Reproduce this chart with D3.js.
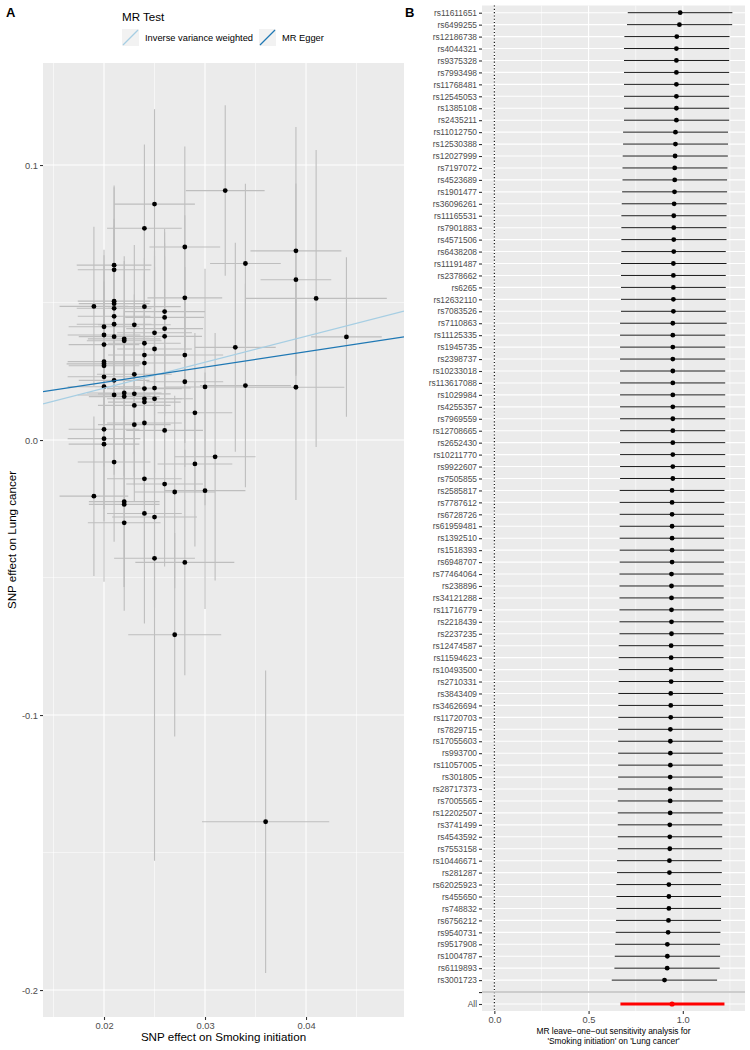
<!DOCTYPE html>
<html>
<head>
<meta charset="utf-8">
<script src="https://cdn.jsdelivr.net/npm/d3@7"></script>
<style>
body { margin: 0; background: #fff; }
svg text { font-family: "Liberation Sans", Arial, Helvetica, sans-serif; }
</style>
</head>
<body>
<div id="chart"></div>
<script>
// ---- panel A: SNP effects (exposure / outcome) with standard errors
var snpX = [0.025, 0.032, 0.024, 0.028, 0.039, 0.034, 0.021, 0.021, 0.039, 0.041,
            0.028, 0.044, 0.019, 0.021, 0.021, 0.021, 0.024, 0.026, 0.026, 0.021,
            0.021, 0.023, 0.020, 0.026, 0.025, 0.020, 0.021, 0.026, 0.022, 0.022,
            0.024, 0.020, 0.025, 0.033, 0.024, 0.028, 0.020, 0.020, 0.020, 0.024,
            0.023, 0.020, 0.021, 0.028, 0.020, 0.030, 0.024, 0.025, 0.034, 0.039,
            0.021, 0.022, 0.022, 0.023, 0.024, 0.024, 0.025, 0.023, 0.029, 0.023,
            0.024, 0.026, 0.020, 0.020, 0.020, 0.031, 0.029, 0.021, 0.024, 0.026,
            0.027, 0.030, 0.019, 0.022, 0.022, 0.024, 0.025, 0.022, 0.025, 0.028,
            0.027, 0.036];
var snpY = [0.0858, 0.0907, 0.0770, 0.0702, 0.0688, 0.0642, 0.0636, 0.0619, 0.0583, 0.0515,
            0.0517, 0.0375, 0.0486, 0.0505, 0.0496, 0.0479, 0.0485, 0.0467, 0.0446, 0.0450,
            0.0421, 0.0419, 0.0412, 0.0405, 0.0390, 0.0382, 0.0376, 0.0377, 0.0368, 0.0361,
            0.0352, 0.0347, 0.0331, 0.0337, 0.0309, 0.0309, 0.0285, 0.0277, 0.0270, 0.0280,
            0.0239, 0.0230, 0.0217, 0.0212, 0.0194, 0.0193, 0.0187, 0.0189, 0.0198, 0.0192,
            0.0164, 0.0171, 0.0158, 0.0168, 0.0150, 0.0138, 0.0150, 0.0126, 0.0099, 0.0056,
            0.0062, 0.0035, 0.0039, 0.0005, -0.0015, -0.0061, -0.0087, -0.0080, -0.0141, -0.0160,
            -0.0189, -0.0184, -0.0204, -0.0224, -0.0234, -0.0267, -0.0280, -0.0301, -0.0430, -0.0445,
            -0.0708, -0.1388];
var seX = [0.0040, 0.0039, 0.0037, 0.0035, 0.0045, 0.0035, 0.0037, 0.0036, 0.0035, 0.0070,
           0.0037, 0.0035, 0.0034, 0.0036, 0.0035, 0.0037, 0.0036, 0.0040, 0.0039, 0.0036,
           0.0037, 0.0036, 0.0035, 0.0038, 0.0037, 0.0036, 0.0035, 0.0037, 0.0036, 0.0037,
           0.0036, 0.0035, 0.0037, 0.0040, 0.0036, 0.0038, 0.0036, 0.0037, 0.0035, 0.0036,
           0.0037, 0.0036, 0.0035, 0.0038, 0.0036, 0.0040, 0.0037, 0.0036, 0.0045, 0.0048,
           0.0036, 0.0037, 0.0035, 0.0036, 0.0037, 0.0036, 0.0038, 0.0036, 0.0037, 0.0036,
           0.0037, 0.0038, 0.0035, 0.0036, 0.0035, 0.0040, 0.0037, 0.0036, 0.0037, 0.0038,
           0.0040, 0.0040, 0.0034, 0.0035, 0.0035, 0.0037, 0.0042, 0.0036, 0.0040, 0.0049,
           0.0046, 0.0063];
var seY = [0.0345, 0.031, 0.0305, 0.0365, 0.045, 0.029, 0.029, 0.030, 0.035, 0.054,
           0.030, 0.029, 0.029, 0.030, 0.028, 0.030, 0.029, 0.030, 0.031, 0.029,
           0.030, 0.029, 0.028, 0.031, 0.030, 0.029, 0.030, 0.029, 0.030, 0.029,
           0.031, 0.029, 0.030, 0.038, 0.030, 0.032, 0.029, 0.030, 0.029, 0.030,
           0.029, 0.030, 0.029, 0.031, 0.029, 0.043, 0.030, 0.031, 0.037, 0.041,
           0.029, 0.030, 0.029, 0.030, 0.031, 0.029, 0.030, 0.029, 0.029, 0.028,
           0.030, 0.031, 0.029, 0.030, 0.050, 0.045, 0.030, 0.029, 0.030, 0.030,
           0.035, 0.043, 0.029, 0.031, 0.030, 0.040, 0.033, 0.032, 0.110, 0.041,
           0.037, 0.055];

// MR fits: intercept, slope
var methods = ["Inverse variance weighted", "MR Egger"];
var methodA = [0, 0.0098];
var methodB = [0.943, 0.557];
var methodColor = ["#a6cee3", "#1f78b4"];

var xTicksA = [0.02, 0.03, 0.04], xMinorA = [0.015, 0.025, 0.035, 0.045];
var yTicksA = [0.1, 0, -0.1, -0.2], yMinorA = [0.05, -0.05, -0.15];

// ---- panel B: leave-one-out estimates
var looSnp = ["rs11611651","rs6499255","rs12186738","rs4044321","rs9375328","rs7993498","rs11768481",
  "rs12545053","rs1385108","rs2435211","rs11012750","rs12530388","rs12027999","rs7197072","rs4523689",
  "rs1901477","rs36096261","rs11165531","rs7901883","rs4571506","rs6438208","rs11191487","rs2378662",
  "rs6265","rs12632110","rs7083526","rs7110863","rs11125335","rs1945735","rs2398737","rs10233018",
  "rs113617088","rs1029984","rs4255357","rs7969559","rs12708665","rs2652430","rs10211770","rs9922607",
  "rs7505855","rs2585817","rs7787612","rs6728726","rs61959481","rs1392510","rs1518393","rs6948707",
  "rs77464064","rs238896","rs34121288","rs11716779","rs2218439","rs2237235","rs12474587","rs11594623",
  "rs10493500","rs2710331","rs3843409","rs34626694","rs11720703","rs7829715","rs17055603","rs993700",
  "rs11057005","rs301805","rs28717373","rs7005565","rs12202507","rs3741499","rs4543592","rs7553158",
  "rs10446671","rs281287","rs62025923","rs455650","rs748832","rs6756212","rs9540731","rs9517908",
  "rs1004787","rs6119893","rs3001723"];
var looB = [0.986, 0.982, 0.968, 0.966, 0.966, 0.966, 0.966, 0.966, 0.966, 0.966,
            0.961, 0.961, 0.959, 0.957, 0.957, 0.956, 0.954, 0.952, 0.952, 0.952,
            0.952, 0.950, 0.950, 0.950, 0.950, 0.950, 0.947, 0.947, 0.947, 0.947,
            0.947, 0.947, 0.947, 0.947, 0.947, 0.947, 0.947, 0.947, 0.947, 0.947,
            0.943, 0.943, 0.943, 0.943, 0.943, 0.943, 0.943, 0.940, 0.940, 0.940,
            0.940, 0.940, 0.940, 0.938, 0.938, 0.938, 0.938, 0.936, 0.936, 0.936,
            0.934, 0.934, 0.934, 0.934, 0.933, 0.933, 0.933, 0.933, 0.931, 0.931,
            0.931, 0.929, 0.929, 0.926, 0.926, 0.926, 0.924, 0.922, 0.918, 0.918,
            0.917, 0.903];
var looLo = [0.708, 0.704, 0.690, 0.688, 0.688, 0.688, 0.688, 0.688, 0.688, 0.688,
             0.683, 0.683, 0.681, 0.680, 0.680, 0.678, 0.676, 0.674, 0.674, 0.674,
             0.674, 0.672, 0.672, 0.672, 0.672, 0.672, 0.667, 0.667, 0.667, 0.667,
             0.667, 0.667, 0.667, 0.667, 0.667, 0.667, 0.667, 0.667, 0.667, 0.667,
             0.665, 0.665, 0.665, 0.665, 0.665, 0.665, 0.665, 0.664, 0.664, 0.664,
             0.664, 0.664, 0.664, 0.660, 0.660, 0.660, 0.660, 0.658, 0.658, 0.658,
             0.657, 0.657, 0.657, 0.657, 0.657, 0.655, 0.655, 0.655, 0.655, 0.655,
             0.655, 0.651, 0.651, 0.648, 0.648, 0.648, 0.646, 0.644, 0.641, 0.639,
             0.637, 0.623];
var looHi = [1.263, 1.262, 1.248, 1.246, 1.246, 1.246, 1.246, 1.246, 1.246, 1.246,
             1.240, 1.240, 1.239, 1.237, 1.235, 1.235, 1.233, 1.232, 1.232, 1.232,
             1.228, 1.232, 1.228, 1.228, 1.228, 1.228, 1.233, 1.225, 1.225, 1.225,
             1.225, 1.225, 1.225, 1.225, 1.225, 1.225, 1.225, 1.225, 1.225, 1.225,
             1.221, 1.221, 1.219, 1.219, 1.219, 1.219, 1.219, 1.217, 1.217, 1.217,
             1.217, 1.217, 1.217, 1.216, 1.216, 1.216, 1.216, 1.214, 1.214, 1.214,
             1.212, 1.212, 1.212, 1.212, 1.212, 1.212, 1.212, 1.212, 1.209, 1.209,
             1.209, 1.207, 1.207, 1.203, 1.203, 1.203, 1.203, 1.200, 1.198, 1.198,
             1.196, 1.182];
var allB = 0.943, allLo = 0.669, allHi = 1.221;

var xTicksB = [0, 0.5, 1.0], xMinorB = [0.25, 0.75, 1.25];

var W = 750, H = 1050;
var svg = d3.select("#chart").append("svg")
    .attr("width", W)
    .attr("height", H);

function fmt1(d) { return d.toFixed(1); }

// ================= panel A =================
var pa = {left: 43, right: 404, top: 63, bottom: 1017};
var x = d3.scaleLinear().domain([0.01396, 0.0497]).range([pa.left, pa.right]);
var y = d3.scaleLinear().domain([-0.2098, 0.1371]).range([pa.bottom, pa.top]);

svg.append("defs").append("clipPath").attr("id", "clipA")
  .append("rect")
    .attr("x", pa.left).attr("y", pa.top)
    .attr("width", pa.right - pa.left).attr("height", pa.bottom - pa.top);

var gA = svg.append("g");
gA.append("rect")
    .attr("x", pa.left).attr("y", pa.top)
    .attr("width", pa.right - pa.left).attr("height", pa.bottom - pa.top)
    .attr("fill", "#EBEBEB");

// grid
gA.selectAll(".xminor").data(xMinorA).enter().append("line")
    .attr("x1", d => x(d)).attr("x2", d => x(d))
    .attr("y1", pa.top).attr("y2", pa.bottom)
    .attr("stroke", "#fff").attr("stroke-width", 0.55);
gA.selectAll(".yminor").data(yMinorA).enter().append("line")
    .attr("y1", d => y(d)).attr("y2", d => y(d))
    .attr("x1", pa.left).attr("x2", pa.right)
    .attr("stroke", "#fff").attr("stroke-width", 0.55);
gA.selectAll(".xmajor").data(xTicksA).enter().append("line")
    .attr("x1", d => x(d)).attr("x2", d => x(d))
    .attr("y1", pa.top).attr("y2", pa.bottom)
    .attr("stroke", "#fff").attr("stroke-width", 1.1);
gA.selectAll(".ymajor").data(yTicksA).enter().append("line")
    .attr("y1", d => y(d)).attr("y2", d => y(d))
    .attr("x1", pa.left).attr("x2", pa.right)
    .attr("stroke", "#fff").attr("stroke-width", 1.1);

var idx = d3.range(snpX.length);
var marks = gA.append("g").attr("clip-path", "url(#clipA)");

// vertical error bars
marks.selectAll(".ev").data(idx).enter().append("line")
    .attr("x1", i => x(snpX[i])).attr("x2", i => x(snpX[i]))
    .attr("y1", i => y(snpY[i] - seY[i])).attr("y2", i => y(snpY[i] + seY[i]))
    .attr("stroke", "#BEBEBE").attr("stroke-width", 1.1);
// horizontal error bars
marks.selectAll(".eh").data(idx).enter().append("line")
    .attr("x1", i => x(snpX[i] - seX[i])).attr("x2", i => x(snpX[i] + seX[i]))
    .attr("y1", i => y(snpY[i])).attr("y2", i => y(snpY[i]))
    .attr("stroke", "#BEBEBE").attr("stroke-width", 1.1);
// points
marks.selectAll(".pt").data(idx).enter().append("circle")
    .attr("cx", i => x(snpX[i])).attr("cy", i => y(snpY[i]))
    .attr("r", 2.4).attr("fill", "#000");
// fitted lines
var xd = x.domain();
marks.selectAll(".fit").data(d3.range(methods.length)).enter().append("line")
    .attr("x1", x(xd[0])).attr("x2", x(xd[1]))
    .attr("y1", i => y(methodA[i] + methodB[i] * xd[0]))
    .attr("y2", i => y(methodA[i] + methodB[i] * xd[1]))
    .attr("stroke", i => methodColor[i]).attr("stroke-width", 1.2);

// axes
var axA_x = gA.append("g")
    .attr("transform", "translate(0," + pa.bottom + ")")
    .call(d3.axisBottom(x).tickValues(xTicksA).tickFormat(d => d.toFixed(2)).tickSize(3).tickPadding(2));
var axA_y = gA.append("g")
    .attr("transform", "translate(" + pa.left + ",0)")
    .call(d3.axisLeft(y).tickValues(yTicksA).tickFormat(fmt1).tickSize(3).tickPadding(2));
[axA_x, axA_y].forEach(function(ax) {
  ax.select(".domain").remove();
  ax.selectAll("line").attr("stroke", "#333").attr("stroke-width", 1.1);
  ax.selectAll("text").attr("fill", "#4D4D4D").style("font-size", "9.3px");
});

gA.append("text")
    .attr("x", (pa.left + pa.right) / 2).attr("y", 1041)
    .attr("text-anchor", "middle")
    .style("font-size", "11.6px")
    .text("SNP effect on Smoking initiation");
gA.append("text")
    .attr("transform", "translate(16," + ((pa.top + pa.bottom) / 2) + ") rotate(-90)")
    .attr("text-anchor", "middle")
    .style("font-size", "11.6px")
    .text("SNP effect on Lung cancer");

// legend
var leg = svg.append("g");
leg.append("text").attr("x", 122).attr("y", 21)
    .style("font-size", "11.6px").text("MR Test");
var legX = [122, 259];
methods.forEach(function(m, i) {
  var lx = legX[i], ly = 29;
  leg.append("rect").attr("x", lx).attr("y", ly).attr("width", 17).attr("height", 17)
      .attr("fill", "#F2F2F2");
  leg.append("line")
      .attr("x1", lx + 1).attr("y1", ly + 16).attr("x2", lx + 16).attr("y2", ly + 1)
      .attr("stroke", methodColor[i]).attr("stroke-width", 1.2);
  leg.append("text").attr("x", lx + 23).attr("y", ly + 12)
      .style("font-size", "9.3px").text(m);
});

svg.append("text").attr("x", 6).attr("y", 17)
    .style("font-size", "13px").style("font-weight", "bold").text("A");

// ================= panel B =================
var pb = {left: 482, right: 745, top: 5.5, bottom: 1011};
var rows = looSnp.concat(["", "All"]);
var xb = d3.scaleLinear().domain([-0.0655, 1.33]).range([pb.left, pb.right]);
var yb = d3.scalePoint().domain(rows).range([12.7, 1004]);

var gB = svg.append("g");
gB.append("rect")
    .attr("x", pb.left).attr("y", pb.top)
    .attr("width", pb.right - pb.left).attr("height", pb.bottom - pb.top)
    .attr("fill", "#EBEBEB");
gB.selectAll(".xminor").data(xMinorB).enter().append("line")
    .attr("x1", d => xb(d)).attr("x2", d => xb(d))
    .attr("y1", pb.top).attr("y2", pb.bottom)
    .attr("stroke", "#fff").attr("stroke-width", 0.55);
gB.selectAll(".xmajor").data(xTicksB).enter().append("line")
    .attr("x1", d => xb(d)).attr("x2", d => xb(d))
    .attr("y1", pb.top).attr("y2", pb.bottom)
    .attr("stroke", "#fff").attr("stroke-width", 1.1);
gB.selectAll(".ymajor").data(rows).enter().append("line")
    .attr("y1", d => yb(d)).attr("y2", d => yb(d))
    .attr("x1", pb.left).attr("x2", pb.right)
    .attr("stroke", "#fff").attr("stroke-width", 1.1);

// null line and separator
gB.append("line")
    .attr("x1", xb(0)).attr("x2", xb(0))
    .attr("y1", pb.top).attr("y2", pb.bottom)
    .attr("stroke", "#000").attr("stroke-width", 1.1)
    .attr("stroke-dasharray", "1.1,2.2");
gB.append("line")
    .attr("x1", pb.left).attr("x2", pb.right)
    .attr("y1", yb("")).attr("y2", yb(""))
    .attr("stroke", "#BEBEBE").attr("stroke-width", 1.6);

var li = d3.range(looSnp.length);
gB.selectAll(".loo").data(li).enter().append("line")
    .attr("x1", i => xb(looLo[i])).attr("x2", i => xb(looHi[i]))
    .attr("y1", i => yb(looSnp[i])).attr("y2", i => yb(looSnp[i]))
    .attr("stroke", "#000").attr("stroke-width", 0.9);
gB.selectAll(".loopt").data(li).enter().append("circle")
    .attr("cx", i => xb(looB[i])).attr("cy", i => yb(looSnp[i]))
    .attr("r", 2.4).attr("fill", "#000");

gB.append("line")
    .attr("x1", xb(allLo)).attr("x2", xb(allHi))
    .attr("y1", yb("All")).attr("y2", yb("All"))
    .attr("stroke", "#FF0000").attr("stroke-width", 2.8);
gB.append("circle")
    .attr("cx", xb(allB)).attr("cy", yb("All"))
    .attr("r", 2.6).attr("fill", "#FF0000");

var axB_x = gB.append("g")
    .attr("transform", "translate(0," + pb.bottom + ")")
    .call(d3.axisBottom(xb).tickValues(xTicksB).tickFormat(fmt1).tickSize(3).tickPadding(2));
var axB_y = gB.append("g")
    .attr("transform", "translate(" + pb.left + ",0)")
    .call(d3.axisLeft(yb).tickSize(3).tickPadding(2));
[axB_x, axB_y].forEach(function(ax) {
  ax.select(".domain").remove();
  ax.selectAll("line").attr("stroke", "#333").attr("stroke-width", 1.1);
  ax.selectAll("text").attr("fill", "#4D4D4D");
});
axB_x.selectAll("text").style("font-size", "9.3px");
axB_y.selectAll("text").style("font-size", "8.4px");

var cxB = (pb.left + pb.right) / 2;
gB.append("text").attr("x", cxB).attr("y", 1034)
    .attr("text-anchor", "middle").style("font-size", "8.4px")
    .text("MR leave\u2212one\u2212out sensitivity analysis for");
gB.append("text").attr("x", cxB).attr("y", 1044)
    .attr("text-anchor", "middle").style("font-size", "8.4px")
    .text("'Smoking initiation' on 'Lung cancer'");

svg.append("text").attr("x", 405).attr("y", 17)
    .style("font-size", "13px").style("font-weight", "bold").text("B");
</script>
</body>
</html>
